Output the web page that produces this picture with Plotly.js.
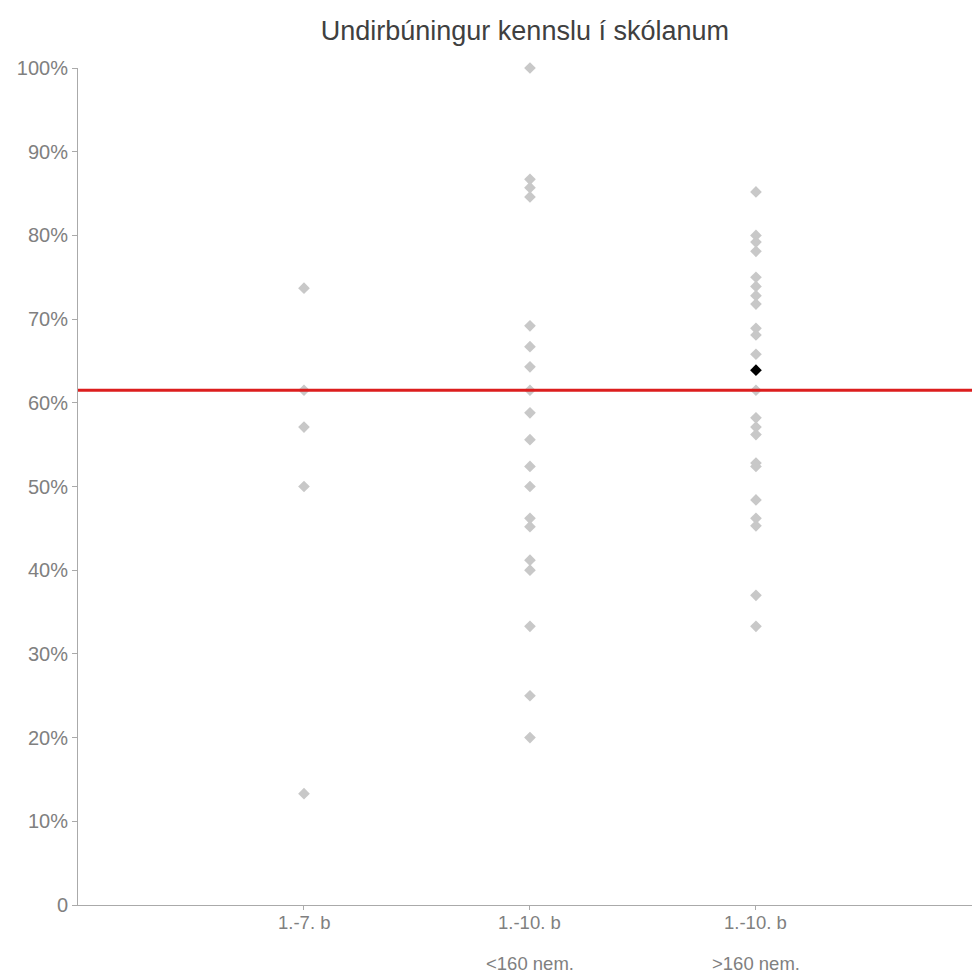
<!DOCTYPE html>
<html>
<head>
<meta charset="utf-8">
<script src="https://cdn.plot.ly/plotly-3.0.1.min.js"></script>
<style>html,body{margin:0;padding:0;background:#fff;}#chart{width:972px;height:973px;}</style>
</head>
<body>
<div id="chart"></div>
<script>
// Category labels (first line / second line)
var categoryLine1 = ['1.-7. b', '1.-10. b', '1.-10. b'];
var categoryLine2 = ['', '&lt;160 nem.', '&gt;160 nem.'];

// Values (%) per category
var values7b = [73.7, 61.5, 57.1, 50.0, 13.3];
var values10bSmall = [100, 86.7, 85.7, 84.6, 69.2, 66.7, 64.3, 61.5, 58.8, 55.6, 52.4, 50.0, 46.2, 45.2, 41.2, 40.0, 33.3, 25.0, 20.0];
var values10bLarge = [85.2, 80.0, 79.2, 78.1, 75.0, 73.9, 72.8, 71.8, 68.9, 68.1, 65.8, 61.5, 58.2, 57.1, 56.2, 52.8, 52.4, 48.4, 46.2, 45.3, 37.0, 33.3];

// Highlighted school (category index, value)
var highlightCategory = 2;
var highlightValue = 63.9;

// Average line
var averageValue = 61.5;

var yTickVals = [0, 10, 20, 30, 40, 50, 60, 70, 80, 90, 100];
var yTickText = ['0', '10%', '20%', '30%', '40%', '50%', '60%', '70%', '80%', '90%', '100%'];

var groups = [values7b, values10bSmall, values10bLarge];
var xs = [], ys = [];
groups.forEach(function (g, i) { g.forEach(function (v) { xs.push(i); ys.push(v); }); });

var FONT = 'Liberation Sans, Arial, Helvetica, sans-serif';

var traces = [
  {
    type: 'scatter', mode: 'markers', x: xs, y: ys,
    marker: { symbol: 'diamond', size: 9, color: 'rgb(200,200,200)' },
    hoverinfo: 'y', showlegend: false, cliponaxis: false
  },
  {
    type: 'scatter', mode: 'markers', x: [highlightCategory], y: [highlightValue],
    marker: { symbol: 'diamond', size: 9, color: '#000' },
    hoverinfo: 'y', showlegend: false, cliponaxis: false
  }
];

function labelAnn(t, i, shift) {
  return {
    text: t, x: i, xref: 'x', y: 0, yref: 'paper', yshift: shift,
    xanchor: 'center', yanchor: 'middle', showarrow: false,
    font: { family: FONT, size: 18.5, color: '#808080' }
  };
}
var annotations = [];
categoryLine1.forEach(function (t, i) { annotations.push(labelAnn(t, i, -17)); });
categoryLine2.forEach(function (t, i) { if (t) annotations.push(labelAnn(t, i, -58)); });

var layout = {
  width: 972, height: 973,
  margin: { l: 78, r: 0, t: 68, b: 68, pad: 0 },
  paper_bgcolor: '#fff', plot_bgcolor: '#fff',
  font: { family: FONT, size: 18, color: '#808080' },
  title: {
    text: 'Undirbúningur kennslu í skólanum',
    x: 0.54, xanchor: 'center', y: 1 - 31 / 973, yanchor: 'middle',
    font: { family: FONT, size: 27, color: '#404040' }
  },
  xaxis: {
    range: [-1, 2.956], tickmode: 'array', tickvals: [0, 1, 2], showticklabels: false,
    showgrid: false, zeroline: false, showline: true, linecolor: '#aaa', linewidth: 1,
    ticks: 'outside', ticklen: 4, tickcolor: '#aaa', fixedrange: true
  },
  yaxis: {
    range: [0, 100], tickmode: 'array', tickvals: yTickVals, ticktext: yTickText,
    showgrid: false, zeroline: false, showline: true, linecolor: '#aaa', linewidth: 1,
    ticks: 'outside', ticklen: 5, tickcolor: '#aaa',
    tickfont: { family: FONT, size: 20, color: '#808080' }, fixedrange: true
  },
  shapes: [{
    type: 'line', xref: 'paper', x0: 0, x1: 1, yref: 'y', y0: averageValue, y1: averageValue,
    line: { color: 'rgb(220,30,30)', width: 3 }, layer: 'above'
  }],
  annotations: annotations,
  showlegend: false
};

Plotly.newPlot('chart', traces, layout, { displayModeBar: false, staticPlot: true });
</script>
</body>
</html>
